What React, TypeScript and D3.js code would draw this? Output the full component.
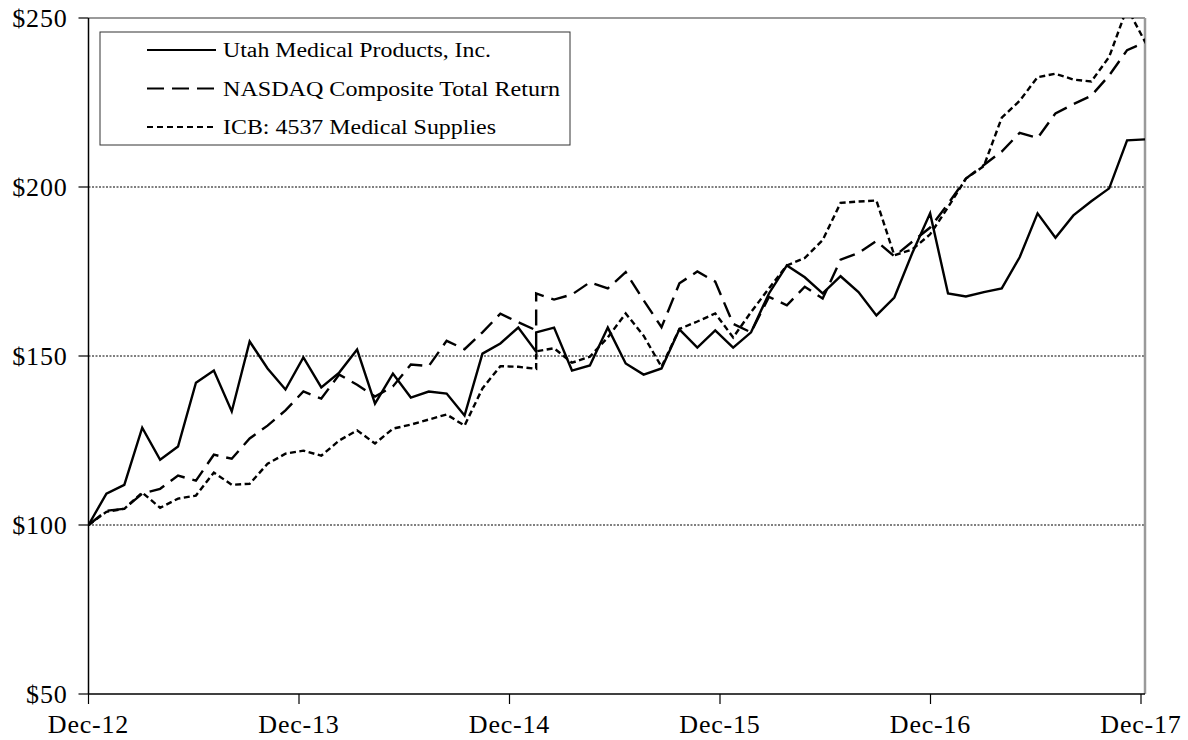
import * as d3 from 'd3';

// One observation in early 2015 shares the period of its neighbour, hence the repeated 25
const periods = [...d3.range(0, 26), 25, ...d3.range(26, 60)];

const utah = [
  100, 109.3, 111.9, 128.8, 119.3, 123.2, 142.1, 145.7, 133.6, 154.3, 146.3, 140.1,
  149.6, 140.7, 145.1, 151.9, 135.9, 144.8, 137.7, 139.5, 138.9, 132.4, 150.7, 153.7,
  158.4, 151.3, 157, 158.4, 145.7, 147.2, 158.4, 147.8, 144.5, 146.3, 157.9, 152.5,
  157.6, 152.5, 157, 168.5, 176.8, 173.3, 168.5, 173.6, 168.9, 162, 167.3, 180.4,
  192.2, 168.5, 167.6, 168.9, 170, 179.2, 192.2, 185, 191.6, 195.8, 199.6, 213.8, 214.1,
];

const nasdaq = [
  100, 104.2, 104.8, 109.3, 110.7, 114.6, 113.1, 120.8, 119.6, 125.6, 129.4, 133.9,
  139.5, 137.4, 144.5, 141.5, 138, 141, 147.5, 147, 154.5, 152, 157, 162.5,
  160, 157.6, 168.5, 166.7, 168.2, 171.8, 170, 174.8, 166.5, 158.5, 171.5, 175,
  172, 159.5, 157, 167.5, 165, 170.5, 167, 178.5, 180.5, 184, 179.5, 183.8,
  188, 195, 202.5, 206.5, 210.5, 216, 214.5, 221.8, 224.5, 227, 233, 240.5, 242.8,
];

const icb = [
  100, 103.9, 104.8, 109.6, 105.1, 107.8, 108.7, 115.5, 111.9, 112.2, 118.1, 121.1,
  122, 120.5, 125, 128, 124.1, 128.5, 129.7, 131.2, 132.7, 129.4, 140.4, 147,
  146.8, 146.2, 151.4, 152.3, 148, 149.8, 155.5, 162.6, 156, 146.8, 158, 160.2,
  162.6, 155.5, 163, 170, 176.8, 179, 184.3, 195.3, 195.7, 196, 179.8, 181.5,
  186, 194, 202.5, 206.2, 220.5, 225.5, 232.5, 233.5, 231.8, 231.2, 238.5, 253, 243,
];

const yTicks = [50, 100, 150, 200, 250];
const gridValues = [100, 150, 200];
const xTickLabels = ['Dec-12', 'Dec-13', 'Dec-14', 'Dec-15', 'Dec-16', 'Dec-17'];

const seriesNames = [
  'Utah Medical Products, Inc.',
  'NASDAQ Composite Total Return',
  'ICB: 4537 Medical Supplies',
];
// the original font renders wider than Liberation Serif, so stretch to its widths
const legendTextWidths = [268, 337, 273];

const W = 1188;
const H = 740;
const left = 88.5;
const right = 1145;
const top = 18;
const bottom = 694;
const font = '"Liberation Serif", "Times New Roman", serif';

export default function App() {
  const x = d3.scaleLinear().domain([0, 59]).range([left, right]);
  const xYear = d3.scaleLinear().domain([0, xTickLabels.length - 1]).range([left, 1141]);
  const y = d3.scaleLinear().domain([50, 250]).range([bottom, top]);

  const line = d3.line<number>()
    .x((_, i) => x(periods[i]))
    .y(d => y(d));

  const styles = [
    { data: utah, dash: 'none', width: 2.4 },
    { data: nasdaq, dash: '16,8', width: 2.4 },
    { data: icb, dash: '6,3.5', width: 2.4 },
  ];
  const legendDash = ['none', '17,8', '6,4'];

  return (
    <svg width={W} height={H} style={{ position: 'absolute', left: 0, top: 0, background: '#fff' }}>
      <defs>
        <clipPath id="plot">
          <rect x={left} y={top} width={right - left} height={bottom - top} />
        </clipPath>
      </defs>

      {/* grid */}
      {gridValues.map(v => (
        <line key={v} x1={left} x2={right} y1={y(v)} y2={y(v)}
          stroke="#000" strokeWidth={1} strokeDasharray="2,1.5" />
      ))}

      {/* frame top/right */}
      <line x1={left} x2={right} y1={top} y2={top} stroke="#9a9a9a" strokeWidth={2} />
      <line x1={right} x2={right} y1={top} y2={bottom} stroke="#9a9a9a" strokeWidth={2.5} />

      {/* series */}
      <g clipPath="url(#plot)">
        {styles.map((s, i) => (
          <path key={i} d={line(s.data) ?? ''} fill="none" stroke="#000"
            strokeWidth={s.width} strokeDasharray={s.dash} strokeLinejoin="miter" />
        ))}
      </g>

      {/* y axis */}
      <line x1={left} x2={left} y1={top} y2={bottom} stroke="#000" strokeWidth={1.5} />
      {yTicks.map(v => (
        <g key={v}>
          <line x1={left - 10} x2={left} y1={y(v)} y2={y(v)} stroke="#000" strokeWidth={1.2} />
          <text x={left - 21} y={y(v)} dy="0.35em" textAnchor="end" letterSpacing={0.8}
            fontFamily={font} fontSize={26} fill="#000">${v}</text>
        </g>
      ))}

      {/* x axis */}
      <line x1={left} x2={right} y1={bottom} y2={bottom} stroke="#000" strokeWidth={1.5} />
      {xTickLabels.map((lab, i) => (
        <g key={lab}>
          <line x1={xYear(i)} x2={xYear(i)} y1={bottom} y2={bottom + 10} stroke="#000" strokeWidth={1.2} />
          <text x={xYear(i)} y={bottom + 39} textAnchor="middle" letterSpacing={0.8}
            fontFamily={font} fontSize={26} fill="#000">{lab}</text>
        </g>
      ))}

      {/* legend */}
      <rect x={100} y={32} width={470} height={113} fill="#fff" stroke="#333" strokeWidth={1} />
      {seriesNames.map((name, i) => {
        const ly = 50 + i * 38.5;
        return (
          <g key={name}>
            <line x1={147} x2={216} y1={ly} y2={ly} stroke="#000" strokeWidth={2.2}
              strokeDasharray={legendDash[i]} />
            <text x={223} y={ly} dy="0.35em" fontFamily={font} fontSize={20} fill="#000"
              textLength={legendTextWidths[i]} lengthAdjust="spacingAndGlyphs">{name}</text>
          </g>
        );
      })}
    </svg>
  );
}
